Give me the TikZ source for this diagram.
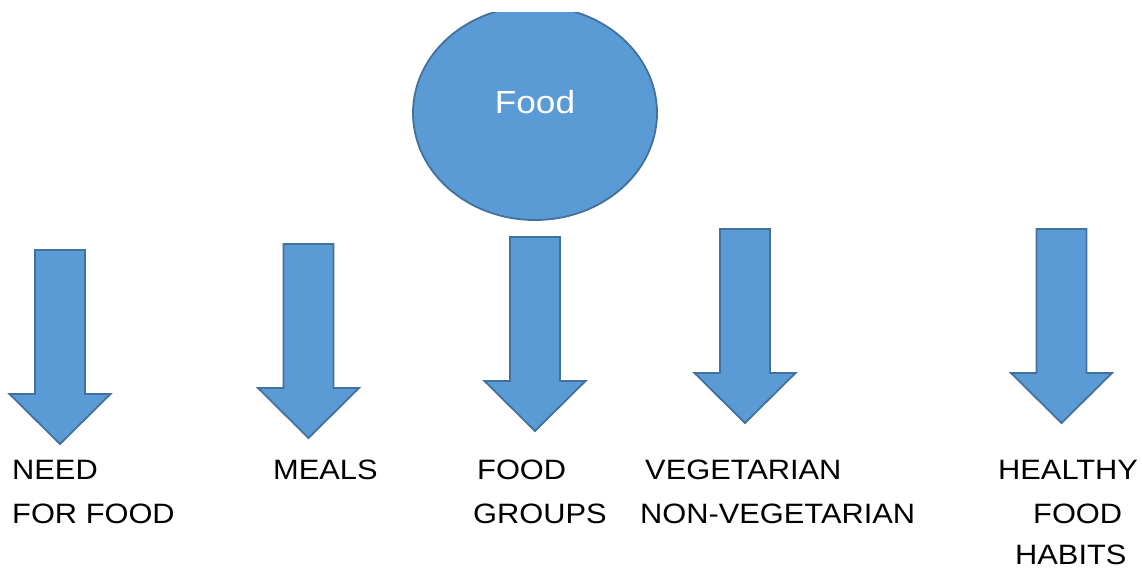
\documentclass[tikz,border=0pt]{standalone}
\usepackage{fontspec}
\setmainfont{Liberation Sans}[FakeStretch=1.1]
\usetikzlibrary{shapes.geometric}
\definecolor{fillblue}{HTML}{5B9BD5}
\definecolor{edgeblue}{HTML}{41719C}
\tikzset{
  bigarrow/.pic={
    \draw[edgeblue, line width=1.8pt, fill=fillblue, line join=miter]
      (-25,0) -- (25,0) -- (25,144) -- (50.5,144) -- (0,194) -- (-50.5,144) -- (-25,144) -- cycle;
  },
  lbl/.style={anchor=base west, inner sep=0pt, font=\fontsize{28}{34}\selectfont, text=black},
  bubble/.style={ellipse, draw=edgeblue, line width=1.8pt, fill=fillblue, minimum width=244pt, minimum height=214pt, inner sep=0pt},
  bubbletext/.style={anchor=base, inner sep=0pt, font=\fontsize{32}{38}\selectfont, text=white}
}
\begin{document}
\begin{tikzpicture}[x=1pt, y=-1pt]
\useasboundingbox (0,0) rectangle (1142,568);
\begin{scope}
  \clip (0,12) rectangle (1142,568);
  \node[bubble] (food) at (535,113) {};
\end{scope}
\node[bubbletext] (foodlabel) at (535,113) {Food};
\pic (a1) at (60,250) {bigarrow};
\pic (a2) at (308.5,244) {bigarrow};
\pic (a3) at (535,237) {bigarrow};
\pic (a4) at (745,229) {bigarrow};
\pic (a5) at (1061.5,229) {bigarrow};
\node[lbl] (t1a) at (12,479) {NEED};
\node[lbl] (t1b) at (12,523) {FOR FOOD};
\node[lbl] (t2a) at (273,479) {MEALS};
\node[lbl] (t3a) at (477,479) {FOOD};
\node[lbl] (t3b) at (473,523) {GROUPS};
\node[lbl] (t4a) at (645,479) {VEGETARIAN};
\node[lbl] (t4b) at (640,523) {NON-VEGETARIAN};
\node[lbl] (t5a) at (998,479) {HEALTHY};
\node[lbl] (t5b) at (1033,523) {FOOD};
\node[lbl] (t5c) at (1015,564) {HABITS};
\end{tikzpicture}
\end{document}
